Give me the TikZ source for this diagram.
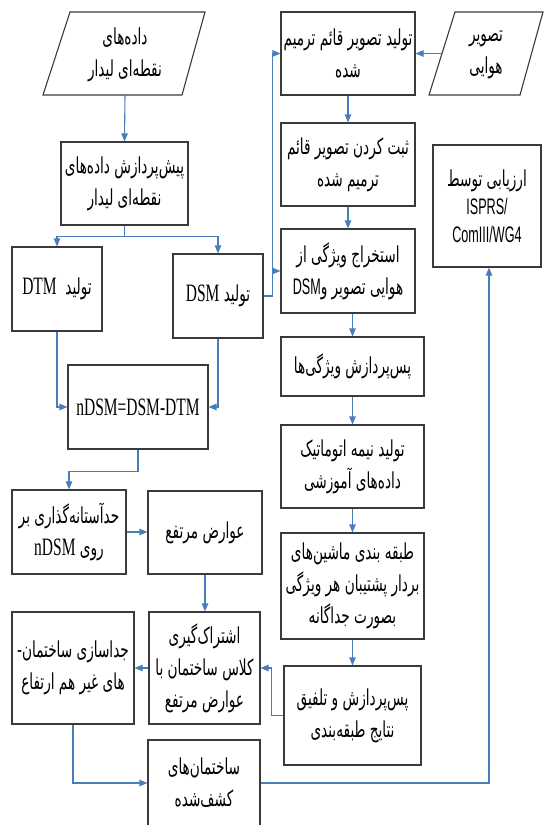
\documentclass[tikz,border=0pt]{standalone}
\usepackage{fontspec}
\usetikzlibrary{arrows.meta,calc}
\TeXXeTstate=1
\newfontfamily\fa[Script=Arabic,FakeStretch=0.62]{DejaVu Sans}
\newfontfamily\tnr[FakeStretch=0.62]{Liberation Serif}
\newfontfamily\arl[FakeStretch=0.56]{Liberation Sans}
\newcommand{\fline}[1]{\beginR #1\endR}
\newcommand{\lat}[1]{\beginL{\tnr\fontsize{25}{32}\selectfont #1}\endL}
\newcommand{\sanslat}[1]{\beginL{\arl\fontsize{22.5}{28}\selectfont #1}\endL}
\definecolor{arrc}{HTML}{4A7EBB}
\definecolor{boxc}{HTML}{3A3A3A}
\begin{document}
\begin{tikzpicture}[x=1pt,y=-1pt,
  box/.style={draw=boxc, line width=1.1pt, align=center, inner sep=0pt,
    font=\fa\fontsize{22}{32}\selectfont},
  txt/.style={align=center, inner sep=0pt, font=\fa\fontsize{22}{32}\selectfont},
  pline/.style={draw=boxc, line width=1.1pt},
  arr/.style={draw=arrc, line width=1.1pt, -{Triangle[length=8pt,width=6.5pt]}},
  ln/.style={draw=arrc, line width=1.1pt}]
\path[use as bounding box] (0,0) rectangle (544,825);
\clip (0,0) rectangle (544,825);

% input parallelograms
\draw[pline] (70,12) -- (205,12) -- (182,95) -- (43,95) -- cycle;
\node[txt] (lidar) at (125,55) {\fline{داده^^^^200cهای}\\\fline{نقطه^^^^200cای لیدار}};
\coordinate (lidarB) at (125,95);

\draw[pline] (455,12) -- (543,12) -- (520,95) -- (429,95) -- cycle;
\node[txt] (aerial) at (486,55) {\fline{تصویر}\\\fline{هوایی}};
\coordinate (aerialL) at (442,53.5);

% left column
\node[box, minimum width=127pt, minimum height=83pt] (pre) at (124.5,183.5)
  {\fline{پیش^^^^200cپردازش داده^^^^200cهای}\\\fline{نقطه^^^^200cای لیدار}};
\node[box, minimum width=90pt, minimum height=84pt] (dtm) at (57,289)
  {\fline{تولید\ \ \lat{DTM}}};
\node[box, minimum width=90pt, minimum height=84pt] (dsm) at (218,296)
  {\fline{تولید \lat{DSM}}};
\node[box, minimum width=140pt, minimum height=84pt] (ndsm) at (138,407)
  {\lat{nDSM=DSM-DTM}};
\node[box, minimum width=114pt, minimum height=84pt] (thr) at (69,532)
  {\fline{حدآستانه^^^^200cگذاری بر}\\\fline{روی \lat{nDSM}}};
\node[box, minimum width=114pt, minimum height=83pt] (high) at (205,532.5)
  {\fline{عوارض مرتفع}};
\node[box, minimum width=111pt, minimum height=112pt] (inter) at (204.5,668)
  {\fline{اشتراک^^^^200cگیری}\\\fline{کلاس ساختمان با}\\\fline{عوارض مرتفع}};
\node[box, minimum width=122pt, minimum height=112pt] (sep) at (73,668)
  {\fline{جداسازی ساختمان-}\\\fline{های غیر هم ارتفاع}};
\node[box, minimum width=112pt, minimum height=86pt] (det) at (204,783)
  {\fline{ساختمان^^^^200cهای}\\\fline{کشف^^^^200cشده}};

% right column
\node[box, minimum width=134pt, minimum height=83pt] (ortho) at (348,53.5)
  {\fline{تولید تصویر قائم ترمیم}\\\fline{شده}};
\node[box, minimum width=134pt, minimum height=83pt] (reg) at (348,164.5)
  {\fline{ثبت کردن تصویر قائم}\\\fline{ترمیم شده}};
\node[box, minimum width=134pt, minimum height=84pt] (feat) at (348,271)
  {\fline{استخراج ویژگی از}\\\sanslat{DSM}\fline{و} \fline{تصویر} \fline{هوایی}};
\node[box, minimum width=143pt, minimum height=59pt] (postf) at (352.5,366.5)
  {\fline{پس^^^^200cپردازش ویژگی^^^^200cها}};
\node[box, minimum width=143pt, minimum height=83pt] (semi) at (352.5,466.5)
  {\fline{تولید نیمه اتوماتیک}\\\fline{داده^^^^200cهای آموزشی}};
\node[box, minimum width=143pt, minimum height=106pt] (cls) at (352.5,586)
  {\fline{طبقه بندی ماشین^^^^200cهای}\\\fline{بردار پشتیبان هر ویژگی}\\\fline{بصورت جداگانه}};
\node[box, minimum width=137pt, minimum height=99pt] (fus) at (352.5,715.5)
  {\fline{پس^^^^200cپردازش و تلفیق}\\\fline{نتایج طبقه^^^^200cبندی}};
\node[box, minimum width=108pt, minimum height=122pt, font=\fa\fontsize{22}{28}\selectfont] (eval) at (487,206)
  {\fline{ارزیابی توسط}\\\sanslat{ISPRS/}\\\sanslat{ComIII/WG4}};

% connectors
\draw[arr] (lidarB) -- (pre.north);
\draw[ln] (pre.south) -- ++(0,11) coordinate (split);
\draw[arr] (split) -| (dtm.north);
\draw[arr] (split) -| (dsm.north);
\draw[arr] (dsm.east) -- ++(9,0) coordinate (dj) |- (ortho.west);
\draw[arr] (dj |- feat.west) -- (feat.west);
\draw[arr] (dtm.south) |- (ndsm.west);
\draw[arr] (dsm.south) |- (ndsm.east);
\draw[arr] (ndsm.south) -- ++(0,22) -| (thr.north);
\draw[arr] (thr.east) -- (thr.east -| high.west);
\draw[arr] (high.south) -- (high.south |- inter.north);
\draw[arr] (inter.west) -- (sep.east);
\draw[arr] (sep.south) |- (det.west);
\draw[arr] (det.east) -| ([xshift=2pt]eval.south);
\draw[arr] (aerialL) -- (ortho.east);
\draw[arr] (ortho.south) -- (reg.north);
\draw[arr] (reg.south) -- (feat.north);
\draw[arr] (postf.north |- feat.south) -- (postf.north);
\draw[arr] (postf.south) -- (semi.north);
\draw[arr] (semi.south) -- (cls.north);
\draw[arr] (cls.south) -- (fus.north);
\draw[arr] (fus.west) -- ++(-12,0) |- (inter.east);
\end{tikzpicture}
\end{document}
